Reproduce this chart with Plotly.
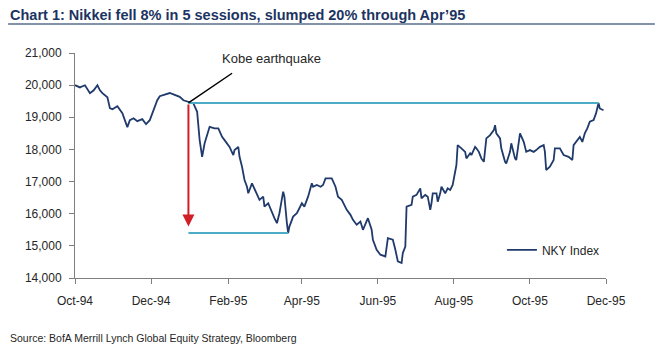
import plotly.graph_objects as go

# ---------------- data ----------------
dates = [
    "1994-10-18", "1994-10-22", "1994-10-24", "1994-10-26", "1994-10-30", "1994-11-02",
    "1994-11-05", "1994-11-07", "1994-11-09", "1994-11-13", "1994-11-15", "1994-11-17",
    "1994-11-21", "1994-11-23", "1994-11-25", "1994-11-29", "1994-12-01", "1994-12-04",
    "1994-12-07", "1994-12-11", "1994-12-14", "1994-12-17", "1994-12-20", "1994-12-23",
    "1994-12-25", "1994-12-28", "1995-01-02", "1995-01-05", "1995-01-10", "1995-01-13",
    "1995-01-17", "1995-01-21", "1995-01-24", "1995-01-26", "1995-01-28", "1995-01-30",
    "1995-02-03", "1995-02-07", "1995-02-10", "1995-02-13", "1995-02-15", "1995-02-19",
    "1995-02-22", "1995-02-23", "1995-02-26", "1995-02-27", "1995-03-01", "1995-03-03",
    "1995-03-05", "1995-03-06", "1995-03-09", "1995-03-11", "1995-03-13", "1995-03-15",
    "1995-03-18", "1995-03-19", "1995-03-22", "1995-03-25", "1995-03-27", "1995-03-29",
    "1995-03-31", "1995-04-03", "1995-04-04", "1995-04-06", "1995-04-07", "1995-04-08",
    "1995-04-11", "1995-04-14", "1995-04-18", "1995-04-20", "1995-04-23", "1995-04-26",
    "1995-04-27", "1995-04-30", "1995-05-03", "1995-05-05", "1995-05-07", "1995-05-12",
    "1995-05-15", "1995-05-17", "1995-05-20", "1995-05-24", "1995-05-27", "1995-05-29",
    "1995-06-01", "1995-06-04", "1995-06-06", "1995-06-10", "1995-06-13", "1995-06-14",
    "1995-06-17", "1995-06-20", "1995-06-24", "1995-06-26", "1995-06-30", "1995-07-02",
    "1995-07-04", "1995-07-07", "1995-07-08", "1995-07-10", "1995-07-11", "1995-07-15",
    "1995-07-16", "1995-07-19", "1995-07-22", "1995-07-23", "1995-07-26", "1995-07-28",
    "1995-07-30", "1995-07-31", "1995-08-01", "1995-08-04", "1995-08-05", "1995-08-07",
    "1995-08-08", "1995-08-11", "1995-08-13", "1995-08-15", "1995-08-17", "1995-08-20",
    "1995-08-21", "1995-08-24", "1995-08-27", "1995-08-28", "1995-08-31", "1995-09-01",
    "1995-09-04", "1995-09-05", "1995-09-07", "1995-09-09", "1995-09-11", "1995-09-13",
    "1995-09-16", "1995-09-19", "1995-09-20", "1995-09-21", "1995-09-24", "1995-09-25",
    "1995-09-28", "1995-09-29", "1995-10-02", "1995-10-03", "1995-10-06", "1995-10-07",
    "1995-10-10", "1995-10-13", "1995-10-15", "1995-10-18", "1995-10-21", "1995-10-23",
    "1995-10-26", "1995-10-29", "1995-10-30", "1995-10-31", "1995-11-03", "1995-11-06",
    "1995-11-07", "1995-11-11", "1995-11-14", "1995-11-18", "1995-11-21", "1995-11-22",
    "1995-11-25", "1995-11-27", "1995-11-29", "1995-12-01", "1995-12-03", "1995-12-05",
    "1995-12-08", "1995-12-10", "1995-12-12", "1995-12-13", "1995-12-16",
]
nky = [
    20000, 19930, 19965, 19995, 19750, 19840,
    19995, 19840, 19750, 19625, 19285, 19250,
    19345, 19250, 19130, 18695, 18910, 18970,
    18880, 18940, 18785, 18910, 19220, 19530,
    19655, 19685, 19755, 19715, 19635, 19530,
    19480, 19430, 19170, 18290, 17770, 18190,
    18705, 18655, 18655, 18390, 18290, 18080,
    17825, 17980, 18080, 17770, 17460, 17050,
    16840, 16635, 16945, 16790, 16585, 16430,
    16530, 16220, 16325, 16015, 15860, 15705,
    16015, 16685, 16530, 15705, 15395, 15600,
    15910, 16015, 16325, 16220, 16530, 16945,
    16840, 16895, 16840, 16895, 17100, 17100,
    16840, 16530, 16430, 16120, 15965, 15810,
    15655, 15755, 15500, 15860, 15500, 15190,
    14880, 14725, 14670, 15240, 15190, 14880,
    14515, 14465, 14775, 14980, 16220, 16275,
    16530, 16585, 16790, 16480, 16585, 16530,
    16120, 16325, 16635, 16635, 16375, 16635,
    16840, 16635, 16790, 16740, 16895, 17515,
    18135, 18035, 17925, 17720, 17880, 17825,
    18080, 18035, 17925, 17720, 17615, 18345,
    18445, 18600, 18755, 18500, 18345, 18035,
    17615, 17565, 17925, 18190, 17720, 17670,
    18500, 18235, 17925, 17980, 17925, 17980,
    18080, 18135, 17925, 17360, 17460, 17670,
    18035, 18035, 17825, 17770, 17670, 18135,
    18290, 18390, 18235, 18500, 18655, 18860,
    18910, 19120, 19445, 19275, 19220,
]

tick_dates = ["1994-10-18", "1994-12-18", "1995-02-18", "1995-04-18",
              "1995-06-18", "1995-08-18", "1995-10-18", "1995-12-18"]
tick_labels = ["Oct-94", "Dec-94", "Feb-95", "Apr-95", "Jun-95", "Aug-95", "Oct-95", "Dec-95"]
y_ticks = [14000, 15000, 16000, 17000, 18000, 19000, 20000, 21000]

# annotation reference points
kobe_date = "1995-01-17"
pre_quake_level = 19447
trough_date = "1995-04-07"
trough_level = 15400
recovery_date = "1995-12-12"
arrow_tip_level = 15600
label_date = "1995-03-25"
label_level = 20830
leader_start_date = "1995-02-21"
leader_start_level = 20370

title_text = "Chart 1: Nikkei fell 8% in 5 sessions, slumped 20% through Apr\u201995"
source_text = "Source: BofA Merrill Lynch Global Equity Strategy, Bloomberg"

NAVY = "#1f3a6b"
CYAN = "#4bacc6"
RED = "#d01f26"
AXIS = "#7f7f7f"
TEXT = "#262626"

fig = go.Figure()
fig.add_trace(go.Scatter(
    x=dates, y=nky, mode="lines", name="NKY Index",
    line=dict(color=NAVY, width=1.8), hoverinfo="skip",
))

# horizontal reference lines
fig.add_shape(type="line", xref="x", yref="y", x0=kobe_date, x1=recovery_date,
              y0=pre_quake_level, y1=pre_quake_level, line=dict(color=CYAN, width=2))
fig.add_shape(type="line", xref="x", yref="y", x0=kobe_date, x1=trough_date,
              y0=trough_level, y1=trough_level, line=dict(color=CYAN, width=2))
# leader line to the label
fig.add_shape(type="line", xref="x", yref="y", x0=leader_start_date, x1=kobe_date,
              y0=leader_start_level, y1=pre_quake_level, line=dict(color="black", width=1.5))

# red arrow
fig.add_annotation(x=kobe_date, y=arrow_tip_level, ax=kobe_date, ay=pre_quake_level,
                   xref="x", yref="y", axref="x", ayref="y", text="",
                   showarrow=True, arrowhead=2, arrowsize=1.2, arrowwidth=2, arrowcolor=RED)
fig.add_annotation(x=label_date, y=label_level, xref="x", yref="y", text="Kobe earthquake",
                   showarrow=False, font=dict(family="Liberation Sans, Arial", size=13, color=TEXT))

# title and underline
fig.add_annotation(x=-0.126, y=1.171, xref="paper", yref="paper", xanchor="left", yanchor="middle",
                   text="<b>" + title_text + "</b>", showarrow=False,
                   font=dict(family="Liberation Sans Narrow, Arial Narrow, Liberation Sans",
                             size=14.5, color="#1c3461"))
fig.add_shape(type="line", xref="paper", yref="paper", x0=-0.126, x1=1.092, y0=1.129, y1=1.129,
              line=dict(color="#5a6e8c", width=1.5))

# source
fig.add_annotation(x=-0.126, y=-0.265, xref="paper", yref="paper", xanchor="left", yanchor="middle",
                   text=source_text, showarrow=False,
                   font=dict(family="Liberation Sans, Arial", size=10.5, color=TEXT))

# the page body adds an 8px offset; the figure is sized to the remaining window
fig.update_layout(
    width=655, height=351,
    margin=dict(l=67, r=57, t=45, b=81),
    paper_bgcolor="white", plot_bgcolor="white",
    showlegend=True,
    legend=dict(x=0.804, y=0.125, xanchor="left", yanchor="middle",
                font=dict(family="Liberation Sans, Arial", size=12, color=TEXT),
                bgcolor="rgba(0,0,0,0)", itemwidth=30),
    font=dict(family="Liberation Sans, Arial", size=12, color=TEXT),
)
fig.update_xaxes(
    type="date", range=[tick_dates[0], tick_dates[-1]],
    tickmode="array", tickvals=tick_dates, ticktext=tick_labels,
    showgrid=False, zeroline=False, showline=True, linecolor=AXIS, linewidth=1,
    ticks="outside", ticklen=5, tickcolor=AXIS, tickfont=dict(size=12, color=TEXT),
    ticklabelstandoff=7,
)
fig.update_yaxes(
    range=[14000, 21000], tickmode="array", tickvals=y_ticks,
    ticktext=[f"{v:,}" for v in y_ticks],
    showgrid=False, zeroline=False, showline=True, linecolor=AXIS, linewidth=1,
    ticks="outside", ticklen=5, tickcolor=AXIS, tickfont=dict(size=12, color=TEXT),
    ticklabelstandoff=5,
)

fig.write_html("out.html")
